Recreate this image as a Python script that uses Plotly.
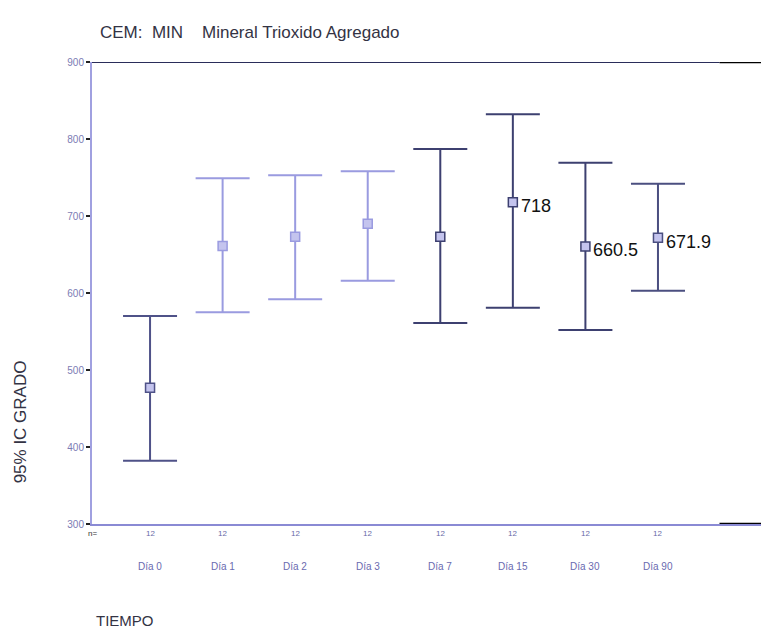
import plotly.graph_objects as go

categories = ["Día 0", "Día 1", "Día 2", "Día 3", "Día 7", "Día 15", "Día 30", "Día 90"]
n_values = ["12", "12", "12", "12", "12", "12", "12", "12"]
means = [477, 661, 673, 690, 673, 718, 660.5, 671.9]
upper = [570, 749, 753, 758, 787, 832, 769, 742]
lower = [382, 575, 592, 616, 561, 581, 552, 603]
mean_labels = ["", "", "", "", "", "718", "660.5", "671.9"]
bar_colors = ["#4f5288", "#9a9be0", "#9a9be0", "#9a9be0", "#3d4070", "#3d4070", "#3d4070", "#4b4f80"]
y_ticks = [300, 400, 500, 600, 700, 800, 900]

FONT = "Liberation Sans, Arial"
PLOT_L, PLOT_W = 92, 669
PLOT_T, PLOT_H = 62, 462

fig = go.Figure()
for i, cat in enumerate(categories):
    fig.add_trace(go.Scatter(
        x=[i], y=[means[i]], mode="markers",
        marker=dict(symbol="square", size=9, color="#c4c4ee",
                    line=dict(color=bar_colors[i], width=1.5)),
        error_y=dict(type="data", symmetric=False,
                     array=[upper[i] - means[i]], arrayminus=[means[i] - lower[i]],
                     color=bar_colors[i], thickness=2, width=27),
        showlegend=False, hoverinfo="skip",
    ))
    if mean_labels[i]:
        fig.add_annotation(x=i, y=means[i], text=mean_labels[i], xanchor="left", yanchor="middle",
                           xshift=6, yshift=-4, showarrow=False,
                           font=dict(family=FONT, size=18, color="#111111"))
    fig.add_annotation(x=i, y=0, xref="x", yref="paper", text=n_values[i], showarrow=False,
                       yshift=-16, font=dict(family=FONT, size=8, color="#6a6aa8"))
    fig.add_annotation(x=i, y=0, xref="x", yref="paper", text=cat, showarrow=False,
                       yshift=-50, font=dict(family=FONT, size=10, color="#6a6ab0"))

fig.add_annotation(x=0, y=0, xref="paper", yref="paper", text="n=", showarrow=False, xanchor="center",
                   yshift=-16, font=dict(family=FONT, size=8, color="#333333"))

fig.add_annotation(x=(20 - PLOT_L) / PLOT_W, y=432, xref="paper", yref="y", text="95% IC GRADO",
                   textangle=-90, showarrow=False, xanchor="center", yanchor="middle",
                   font=dict(family=FONT, size=17, color="#333344"))
fig.add_annotation(x=(94 - PLOT_L) / PLOT_W, y=-(620 - PLOT_T - PLOT_H) / PLOT_H, xref="paper", yref="paper",
                   text="TIEMPO", showarrow=False, xanchor="left", yanchor="middle",
                   font=dict(family=FONT, size=15, color="#333344"))

# top frame line and black right ends
fig.add_shape(type="line", xref="paper", yref="y", x0=0, x1=0.938, y0=900, y1=900,
              line=dict(color="#2a2d5a", width=2))
fig.add_shape(type="line", xref="paper", yref="y", x0=0.938, x1=1, y0=900, y1=900,
              line=dict(color="#000000", width=2.5))
fig.add_shape(type="line", xref="paper", yref="y", x0=0.938, x1=1, y0=300, y1=300,
              line=dict(color="#000000", width=2.5))

fig.update_layout(
    width=761, height=642,
    margin=dict(l=PLOT_L, r=0, t=PLOT_T, b=642 - PLOT_T - PLOT_H),
    paper_bgcolor="white", plot_bgcolor="white",
    title=dict(text="CEM:  MIN    Mineral Trioxido Agregado", x=100 / 761, xanchor="left",
               y=1 - 32 / 642, yanchor="middle",
               font=dict(family=FONT, size=17, color="#333344")),
    xaxis=dict(range=[-0.8, 8.42], showgrid=False, zeroline=False, showticklabels=False,
               showline=True, linecolor="#8a8ad4", linewidth=2, ticks="", fixedrange=True),
    yaxis=dict(range=[300, 900], tickvals=y_ticks, showgrid=False, zeroline=False,
               showline=True, linecolor="#a0a0e0", linewidth=2, ticks="outside", ticklen=4,
               tickwidth=2, tickcolor="#222222",
               tickfont=dict(family=FONT, size=10, color="#7c7cb4")),
)

fig.write_html("out.html")
